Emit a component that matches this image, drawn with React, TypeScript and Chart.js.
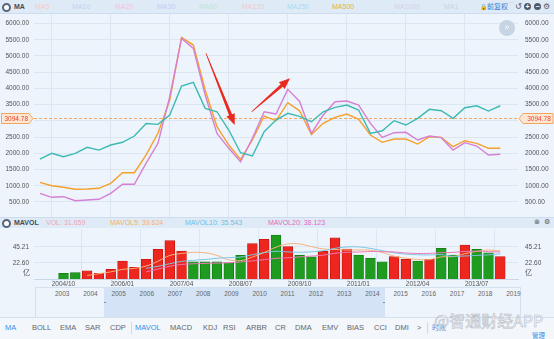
import React, { useEffect, useRef } from "react";
import { Chart, registerables } from "chart.js";
Chart.register(...registerables);

// ---------- data ----------
const QUARTERS = [
  "2004/07", "2004/10", "2005/01", "2005/04", "2005/07", "2005/10", "2006/01", "2006/04", "2006/07", "2006/10",
  "2007/01", "2007/04", "2007/07", "2007/10", "2008/01", "2008/04", "2008/07", "2008/10", "2009/01", "2009/04",
  "2009/07", "2009/10", "2010/01", "2010/04", "2010/07", "2010/10", "2011/01", "2011/04", "2011/07", "2011/10",
  "2012/01", "2012/04", "2012/07", "2012/10", "2013/01", "2013/04", "2013/07", "2013/10", "2014/01", "2014/04",
];
const X_TICK_LABELS = ["2004/10", "2006/01", "2007/04", "2008/07", "2009/10", "2011/01", "2012/04", "2013/07"];

const MA_TEAL = [
  1824, 2000, 1896, 2000, 2185, 2100, 2256, 2340, 2533, 2920,
  2893, 3180, 4073, 4187, 3386, 3281, 2718, 2018, 1917, 2667,
  3026, 3233, 3140, 2974, 3281, 3417, 3488, 3334, 2616, 2696,
  3005, 2872, 3077, 3355, 3313, 3077, 3404, 3466, 3303, 3466,
];
const MA_ORANGE = [
  1107, 1002, 953, 891, 900, 922, 1076, 1402, 1402, 1950,
  2616, 3642, 5573, 5336, 3950, 2820, 2256, 1815, 2410, 3149,
  3005, 3560, 3310, 2580, 2924, 3108, 3210, 3047, 2564, 2339,
  2440, 2440, 2286, 2512, 2492, 2203, 2388, 2308, 2154, 2154,
];
const MA_PINK = [
  768, 645, 663, 540, 562, 583, 768, 1045, 1045, 1700,
  2308, 3743, 5542, 5234, 3796, 2615, 2154, 1741, 2462, 3281,
  3210, 3970, 3600, 2616, 3180, 3590, 3611, 3488, 2924, 2492,
  2636, 2647, 2410, 2533, 2482, 2100, 2329, 2225, 1948, 1969,
];
const PRICE_TICKS = [500, 1000, 1500, 2000, 2500, 3000, 3500, 4000, 4500, 5000, 5500, 6000];
const LAST_PRICE = 3094.78;

const VOL = [
  null, null, 8.0, 8.9, 11.7, 8.0, 13.7, 25.4, 16.5, 27.8,
  42.0, 54.1, 39.5, 24.4, 24.4, 24.4, 23.0, 33.5, 49.9, 56.1,
  62.1, 45.9, 33.6, 31.4, 39.1, 58.3, 42.4, 33.9, 29.2, 24.4,
  31.5, 27.8, 25.4, 27.8, 43.4, 33.9, 48.0, 42.0, 37.1, 31.66,
];
// "u" = up (red), "d" = down (green)
const VOL_DIR = [
  "", "", "d", "d", "u", "u", "u", "u", "u", "u",
  "u", "u", "u", "d", "d", "d", "d", "d", "u", "u",
  "d", "u", "d", "d", "u", "u", "u", "d", "d", "d",
  "u", "u", "d", "u", "d", "d", "u", "d", "d", "u",
];
const MAVOL5 = [
  null, null, null, null, 5.0, 7.5, 10.1, 13.5, 15.1, 18.3,
  25.1, 33.2, 36.0, 37.6, 36.9, 33.4, 27.1, 25.9, 31.0, 37.4,
  44.9, 49.5, 49.5, 45.8, 42.4, 41.7, 41.0, 41.0, 40.6, 37.6,
  32.3, 29.4, 27.7, 27.4, 31.2, 31.7, 35.7, 39.0, 40.9, 39.62,
];
const MAVOL10 = [
  null, null, null, null, null, null, null, null, null, 15.0,
  18.0, 21.6, 24.8, 26.3, 27.6, 29.2, 30.2, 31.0, 34.3, 37.1,
  39.1, 38.3, 37.7, 38.4, 39.9, 43.3, 45.2, 45.3, 43.2, 40.0,
  37.0, 35.2, 34.3, 34.0, 34.4, 32.0, 32.5, 33.3, 34.1, 35.54,
];
const MAVOL20 = [
  null, null, null, null, null, null, null, null, null, 10.0,
  14.0, 18.0, 20.5, 21.5, 22.0, 22.5, 23.0, 24.1, 25.6, 27.3,
  29.1, 30.0, 31.2, 32.4, 33.7, 36.3, 37.7, 38.1, 38.8, 38.6,
  38.1, 36.7, 36.0, 36.2, 37.2, 37.6, 38.9, 39.3, 38.7, 38.12,
];
const VOL_TICKS = [22.6, 45.21];

const MA_LEGEND = ["MA5", "MA10", "MA20", "MA30", "MA60", "MA120", "MA250", "MA500", "MA1000", "MA1"];
const YEARS = ["2003", "2004", "2005", "2006", "2007", "2008", "2009", "2010", "2011", "2012", "2013", "2014", "2015", "2016", "2017", "2018", "2019"];
const TABS = ["MA", "BOLL", "EMA", "SAR", "CDP", "MAVOL", "MACD", "KDJ", "RSI", "ARBR", "CR", "DMA", "EMV", "BIAS", "CCI", "DMI", ">"];

// annotation arrows (index, value) -> (index, value)
const ARROWS = [
  { from: [14.07, 5080], to: [16.5, 2870] },
  { from: [17.94, 3281], to: [21.19, 4310] },
];

// ---------- styles ----------
const FONT = '"Liberation Sans", Arial, sans-serif';
const CJK = '"Noto Sans CJK SC", "Noto Sans", sans-serif';
const BG = "#edf4fc";
const BAND = "#dfeaf7";
const GRID = "#dbe6f3";
const TEAL = "#3cbab2";
const ORANGE = "#f5a02c";
const PINK = "#d67fd3";
const RED = "#ee2620";
const GREEN = "#1f9c1f";
const AXIS_TXT = "#555";

const W = 554;
const MAIN_TOP = 14;
const MAIN_H = 203;
const VOL_TOP = 228;
const VOL_H = 59;

const MA_LEGEND_X = [35, 72, 115, 157, 199, 242, 287, 332, 394, 444];
const MA_LEGEND_C = ["#f3cdbd", "#bcd5f0", "#f2c3d9", "#c3ccf0", "#c5e3cf", "#f1c7cf", "#abdcea", "#e4b23a", "#d2d0ec", "#c9d3e6"];
const TAB_X = [5, 32, 60, 85, 110, 135, 170, 203, 223, 246, 275, 295, 322, 347, 374, 395, 417];

function idxGridValues() {
  return X_TICK_LABELS.map((l) => QUARTERS.indexOf(l));
}

function drawArrow(ctx: CanvasRenderingContext2D, x1: number, y1: number, x2: number, y2: number) {
  const ang = Math.atan2(y2 - y1, x2 - x1);
  const len = Math.hypot(x2 - x1, y2 - y1);
  const hl = 11, hw = 4.5, s0 = 0.4, s1 = 1.6;
  ctx.save();
  ctx.translate(x1, y1);
  ctx.rotate(ang);
  ctx.beginPath();
  ctx.moveTo(0, -s0);
  ctx.lineTo(len - hl, -s1);
  ctx.lineTo(len - hl, -hw);
  ctx.lineTo(len, 0);
  ctx.lineTo(len - hl, hw);
  ctx.lineTo(len - hl, s1);
  ctx.lineTo(0, s0);
  ctx.closePath();
  ctx.fillStyle = "#ea2a1e";
  ctx.fill();
  ctx.restore();
}

function badge(ctx: CanvasRenderingContext2D, x0: number, x1: number, tip: number, y: number, text: string) {
  ctx.save();
  ctx.beginPath();
  if (tip > x1) {
    ctx.moveTo(x0, y - 5);
    ctx.lineTo(x1, y - 5);
    ctx.lineTo(tip, y);
    ctx.lineTo(x1, y + 5);
    ctx.lineTo(x0, y + 5);
  } else {
    ctx.moveTo(x1, y - 5);
    ctx.lineTo(x0, y - 5);
    ctx.lineTo(tip, y);
    ctx.lineTo(x0, y + 5);
    ctx.lineTo(x1, y + 5);
  }
  ctx.closePath();
  ctx.fillStyle = "#fde6d2";
  ctx.fill();
  ctx.strokeStyle = "#f2a55f";
  ctx.lineWidth = 1;
  ctx.stroke();
  ctx.fillStyle = "#f0402c";
  ctx.font = `6.5px ${FONT}`;
  ctx.textAlign = "center";
  ctx.textBaseline = "middle";
  const cx = tip > x1 ? (x0 + x1) / 2 + 1 : (x0 + x1) / 2 + 1;
  ctx.fillText(text, cx, y + 0.5);
  ctx.restore();
}

const mainPlugin = {
  id: "mainDeco",
  beforeDatasetsDraw(chart: any) {
    const { ctx, chartArea } = chart;
    const y = chart.scales.y.getPixelForValue(LAST_PRICE);
    ctx.save();
    ctx.setLineDash([3, 2]);
    ctx.strokeStyle = "#f2a765";
    ctx.lineWidth = 1;
    ctx.beginPath();
    ctx.moveTo(chartArea.left, Math.round(y) + 0.5);
    ctx.lineTo(chartArea.right, Math.round(y) + 0.5);
    ctx.stroke();
    ctx.restore();
  },
  afterDatasetsDraw(chart: any) {
    const { ctx } = chart;
    const xs = chart.scales.x;
    const ys = chart.scales.y;
    ARROWS.forEach((a) => {
      drawArrow(
        ctx,
        xs.getPixelForValue(a.from[0]), ys.getPixelForValue(a.from[1]),
        xs.getPixelForValue(a.to[0]), ys.getPixelForValue(a.to[1])
      );
    });
    const y = Math.round(ys.getPixelForValue(LAST_PRICE)) + 0.5;
    badge(ctx, 1.5, 29, 33, y, LAST_PRICE.toFixed(2));
    badge(ctx, 523, 553, 519, y, LAST_PRICE.toFixed(2));
  },
};

const volPlugin = {
  id: "volDeco",
  afterDraw(chart: any) {
    const { ctx, chartArea } = chart;
    const xs = chart.scales.x;
    ctx.save();
    ctx.strokeStyle = "#c9d6e6";
    ctx.lineWidth = 1;
    ctx.beginPath();
    idxGridValues().forEach((v) => {
      const x = Math.round(xs.getPixelForValue(v)) + 0.5;
      ctx.moveTo(x, chartArea.bottom);
      ctx.lineTo(x, chartArea.bottom + 4);
    });
    ctx.stroke();
    ctx.fillStyle = AXIS_TXT;
    ctx.font = `7px ${CJK}`;
    ctx.textBaseline = "middle";
    ctx.textAlign = "left";
    const yy = chart.scales.y.getPixelForValue(VOL_TICKS[0]) + 9;
    ctx.fillText("亿", 23, yy);
    ctx.fillText("亿", 525, yy);
    ctx.restore();
  },
};

function T(props: any) {
  const { x, y, text, color = "#555", size = 7, weight = 400, family = FONT, style = {} } = props;
  return (
    <div
      style={{
        position: "absolute",
        left: x,
        top: y - size * 0.65,
        fontSize: size,
        lineHeight: `${size * 1.3}px`,
        color,
        fontWeight: weight,
        fontFamily: family,
        whiteSpace: "nowrap",
        ...style,
      }}
    >
      {text}
    </div>
  );
}

function Icon({ x, y }: any) {
  return (
    <div
      style={{
        position: "absolute",
        left: x,
        top: y,
        width: 5,
        height: 5,
        borderRadius: "50%",
        border: "2px solid #56677d",
        background: "#fff",
      }}
    />
  );
}

function RoundBtn({ x, y, sign }: any) {
  return (
    <div
      style={{
        position: "absolute",
        left: x,
        top: y,
        width: 7,
        height: 7,
        borderRadius: "50%",
        background: "#4d5a6b",
        color: "#fff",
        fontSize: 7,
        lineHeight: "7px",
        textAlign: "center",
        fontFamily: FONT,
        fontWeight: 700,
      }}
    >
      {sign}
    </div>
  );
}

export default function App() {
  const mainRef = useRef<HTMLCanvasElement>(null);
  const volRef = useRef<HTMLCanvasElement>(null);

  useEffect(() => {
    document.body.style.margin = "0";
    const gridIdx = idxGridValues();
    const pMin = 37.8;
    const pMax = 6292.7;
    const yAxis = (pos: string, width: number, pad: number, ticks: number[], fmt: (v: number) => string, min: number, max: number, grid: boolean) => ({
      type: "linear",
      position: pos,
      min,
      max,
      afterBuildTicks: (ax: any) => {
        ax.ticks = ticks.map((value) => ({ value }));
      },
      afterFit: (ax: any) => {
        ax.width = width;
        ax.paddingTop = 0;
        ax.paddingBottom = 0;
      },
      ticks: {
        font: { size: 6.5, family: FONT },
        color: AXIS_TXT,
        padding: pad,
        callback: (v: number) => fmt(v),
      },
      grid: { display: grid, color: GRID, drawTicks: false, lineWidth: 1 },
      border: { display: false },
    });
    const fmtPrice = (v: number) => (v === 3000 ? "" : v.toFixed(2));
    const fmtVol = (v: number) => v.toFixed(2);

    const main = new Chart(mainRef.current as HTMLCanvasElement, {
      type: "line",
      data: {
        datasets: [
          { data: MA_TEAL.map((y, x) => ({ x, y })), borderColor: TEAL, borderWidth: 1.4, pointRadius: 0, tension: 0 },
          { data: MA_PINK.map((y, x) => ({ x, y })), borderColor: PINK, borderWidth: 1.4, pointRadius: 0, tension: 0 },
          { data: MA_ORANGE.map((y, x) => ({ x, y })), borderColor: ORANGE, borderWidth: 1.4, pointRadius: 0, tension: 0 },
        ],
      },
      options: {
        animation: false,
        responsive: false,
        events: [],
        layout: { padding: 0 },
        plugins: { legend: { display: false }, tooltip: { enabled: false } },
        scales: {
          x: {
            type: "linear",
            min: -0.5,
            max: 40.5,
            afterBuildTicks: (ax: any) => {
              ax.ticks = gridIdx.map((value) => ({ value }));
            },
            afterFit: (ax: any) => {
              ax.height = 0;
              ax.paddingLeft = 0;
              ax.paddingRight = 0;
            },
            ticks: { display: false },
            grid: { color: GRID, drawTicks: false },
            border: { display: false },
          },
          y: yAxis("left", 34, 5, PRICE_TICKS, fmtPrice, pMin, pMax, true),
          y2: yAxis("right", 36, 7, PRICE_TICKS, fmtPrice, pMin, pMax, false),
        },
      } as any,
      plugins: [mainPlugin],
    });

    const barPts: any[] = [];
    const barCols: string[] = [];
    const barBorders: string[] = [];
    VOL.forEach((v, i) => {
      if (v == null) return;
      barPts.push({ x: i, y: v });
      const up = VOL_DIR[i] === "u";
      barCols.push(up ? RED : GREEN);
      barBorders.push(up ? "#c8120e" : "#117a11");
    });
    const line = (arr: (number | null)[], color: string) => ({
      type: "line",
      data: arr.map((y, x) => ({ x, y })),
      borderColor: color,
      borderWidth: 1,
      pointRadius: 0,
      tension: 0.4,
      spanGaps: false,
      order: 0,
    });

    const vol = new Chart(volRef.current as HTMLCanvasElement, {
      type: "bar",
      data: {
        datasets: [
          {
            type: "bar",
            data: barPts,
            backgroundColor: barCols,
            borderColor: barBorders,
            borderWidth: 0.8,
            barThickness: 9.8,
            order: 10,
          },
          line(MAVOL20, "#ee77b6"),
          line(MAVOL10, "#7cc6e4"),
          line(MAVOL5, "#f7b27a"),
        ],
      },
      options: {
        animation: false,
        responsive: false,
        events: [],
        layout: { padding: { top: 1 } },
        plugins: { legend: { display: false }, tooltip: { enabled: false } },
        scales: {
          x: {
            type: "linear",
            min: -0.5,
            max: 40.5,
            offset: false,
            afterBuildTicks: (ax: any) => {
              ax.ticks = gridIdx.map((value) => ({ value }));
            },
            afterFit: (ax: any) => {
              ax.height = 8;
              ax.paddingLeft = 0;
              ax.paddingRight = 0;
            },
            ticks: {
              font: { size: 6.5, family: FONT },
              color: AXIS_TXT,
              padding: 1,
              align: "start",
              maxRotation: 0,
              autoSkip: false,
              callback: (v: number) => QUARTERS[v],
            },
            grid: { color: GRID, drawTicks: false },
            border: { display: true, color: "#c9d6e6" },
          },
          y: yAxis("left", 34, 5, VOL_TICKS, fmtVol, 0, 70.6, true),
          y2: yAxis("right", 36, 7, VOL_TICKS, fmtVol, 0, 70.6, false),
        },
      } as any,
      plugins: [volPlugin],
    });

    return () => {
      main.destroy();
      vol.destroy();
    };
  }, []);

  return (
    <div style={{ position: "fixed", left: 0, top: 0, width: W, height: 339, background: BG, overflow: "hidden", fontFamily: FONT }}>
      {/* top band */}
      <div style={{ position: "absolute", left: 0, top: 0, width: W, height: 13, background: BAND, borderBottom: "1px solid #cddcee" }} />
      <Icon x={2} y={3} />
      <T x={14} y={7} text="MA" color="#3f4a58" size={7} weight={700} />
      {MA_LEGEND.map((m, i) => (
        <T key={m} x={MA_LEGEND_X[i]} y={7} text={m} color={MA_LEGEND_C[i]} size={7} />
      ))}
      <T x={480} y={7} text="🔒" color="#4d5a6b" size={6} family={CJK} />
      <T x={487} y={7} text="前复权" color="#2f7fd9" size={7} family={CJK} />
      <T x={509} y={3} text="- - -" color="#f06a9a" size={3} />
      <T x={515} y={7} text="↺" color="#4d5a6b" size={8} family='"DejaVu Sans", sans-serif' />
      <RoundBtn x={524} y={3} sign="+" />
      <RoundBtn x={534} y={3} sign="−" />
      <T x={543} y={7} text="⚙" color="#4d5a6b" size={8} family='"DejaVu Sans", sans-serif' />

      {/* main chart */}
      <canvas ref={mainRef} width={W} height={MAIN_H} style={{ position: "absolute", left: 0, top: MAIN_TOP, width: W, height: MAIN_H }} />
      <div style={{ position: "absolute", left: 499, top: 20, width: 16, height: 16, borderRadius: "50%", background: "#c7d4e4", color: "#fff", fontSize: 9, lineHeight: "15px", textAlign: "center", fontFamily: FONT }}>»</div>

      {/* volume band */}
      <div style={{ position: "absolute", left: 0, top: 217, width: W, height: 10, background: BAND, borderTop: "1px solid #cddcee" }} />
      <Icon x={2} y={219} />
      <T x={14} y={223} text="MAVOL" color="#3f4a58" size={7} weight={700} />
      <T x={46} y={223} text="VOL: 31.659" color="#f2a3b8" size={7} />
      <T x={110} y={223} text="MAVOL5: 39.624" color="#f3b06e" size={7} />
      <T x={185} y={223} text="MAVOL10: 35.543" color="#6cc0e2" size={7} />
      <T x={268} y={223} text="MAVOL20: 38.123" color="#e06cbc" size={7} />
      <T x={534} y={223} text="⊗" color="#4d5a6b" size={7} family='"DejaVu Sans", sans-serif' />
      <T x={544} y={223} text="⚙" color="#4d5a6b" size={7} family='"DejaVu Sans", sans-serif' />

      {/* volume chart */}
      <canvas ref={volRef} width={W} height={VOL_H} style={{ position: "absolute", left: 0, top: VOL_TOP, width: W, height: VOL_H }} />

      {/* navigator */}
      <div style={{ position: "absolute", left: 35, top: 287, width: 484, height: 29, background: "#eef4fb", borderTop: "1px solid #d3e0ee", borderLeft: "1px solid #d3e0ee", borderRight: "1px solid #d3e0ee" }} />
      <div style={{ position: "absolute", left: 104, top: 288, width: 281, height: 29, background: "#d4e4f6" }} />
      <div style={{ position: "absolute", left: 104, top: 302, width: 2, height: 1, background: "#7d8da0" }} />
      <div style={{ position: "absolute", left: 383, top: 302, width: 2, height: 1, background: "#7d8da0" }} />
      {YEARS.map((y, i) => (
        <T key={y} x={55 + i * 28.2} y={294} text={y} color="#666" size={6.5} />
      ))}

      {/* tabs */}
      <div style={{ position: "absolute", left: 0, top: 317, width: W, height: 22, background: "#f3f7fc", borderTop: "1px solid #d3e0ee" }} />
      {TABS.map((t, i) => (
        <T key={t} x={TAB_X[i]} y={328} text={t} color={t === "MA" || t === "MAVOL" ? "#3a8ee6" : "#666"} size={7.5} />
      ))}
      <div style={{ position: "absolute", left: 131, top: 322, width: 1, height: 12, background: "#d0dbe8" }} />
      <div style={{ position: "absolute", left: 427, top: 322, width: 1, height: 12, background: "#d0dbe8" }} />
      <T x={432} y={328} text="时效" color="#3a8ee6" size={7} family={CJK} />
      <T x={434} y={320} text="@智通财经APP" color="rgba(255,255,255,0.85)" size={16} family={CJK} style={{ WebkitTextStroke: "0.6px #b4bcc6" }} />
      <T x={532} y={335} text="管理" color="#3a8ee6" size={6.5} family={CJK} />
    </div>
  );
}
